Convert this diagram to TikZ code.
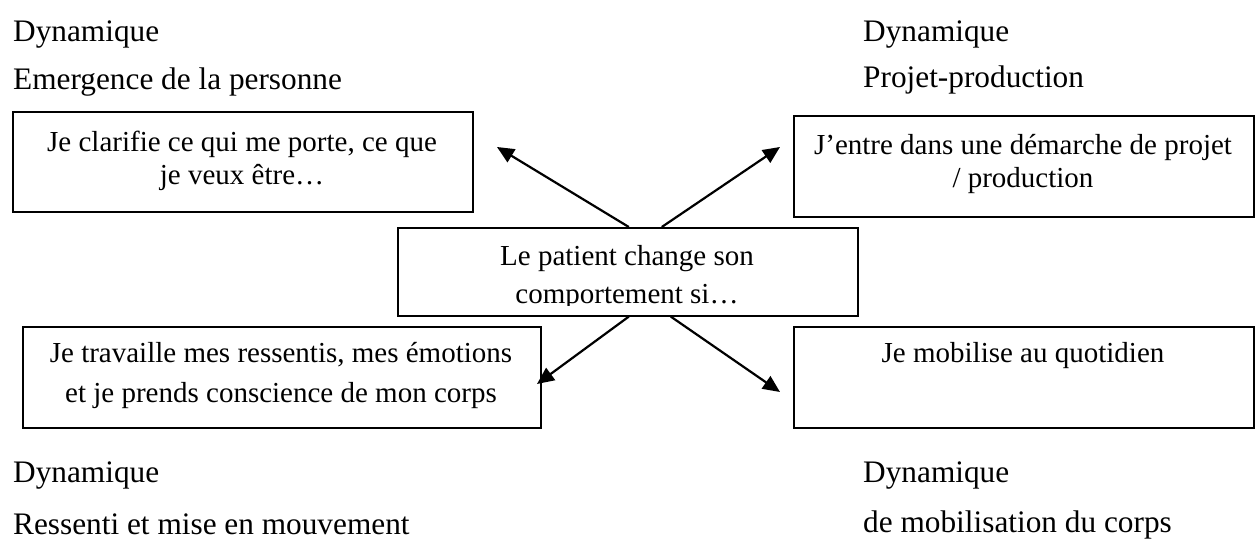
\documentclass[tikz,border=0pt]{standalone}
\usepackage{fontspec}
\setmainfont{Liberation Serif}
\usetikzlibrary{arrows.meta}
\begin{document}
\begin{tikzpicture}[x=1pt,y=-1pt,
  box/.style={draw, line width=1.6pt, inner sep=0pt, anchor=north west},
  txt/.style={inner sep=0pt, align=center, anchor=base, font=\fontsize{29}{33}\selectfont},
  lbl/.style={inner sep=0pt, anchor=base west, font=\fontsize{31.3}{36}\selectfont},
  arr/.style={line width=2.2pt, -{Triangle[length=17pt,width=15pt]}}]
\useasboundingbox (0,0) rectangle (1255,540);
% boxes
\node[box, minimum width=460pt, minimum height=100pt] (tl) at (12,111) {};
\node[box, minimum width=460pt, minimum height=101pt] (tr) at (793,115) {};
\node[box, minimum width=460pt, minimum height=88pt] (c) at (397,227) {};
\node[box, minimum width=518pt, minimum height=101pt] (bl) at (22,326) {};
\node[box, minimum width=460pt, minimum height=101pt] (br) at (793,326) {};
% box texts (anchor base = baseline of the last line)
\node[txt, font=\fontsize{29}{33}\selectfont] (tlt) at (242,185) {Je clarifie ce qui me porte, ce que\\je veux être…};
\node[txt, font=\fontsize{29}{33}\selectfont] (trt) at (1023,188) {J’entre dans une démarche de projet\\/ production};
\begin{scope}
\clip (397,227) rectangle (857,305);
\node[txt, font=\fontsize{29}{38}\selectfont] (ct) at (627,303) {Le patient change son\\comportement si…};
\end{scope}
\node[txt, font=\fontsize{29}{40}\selectfont] (blt) at (281,402) {Je travaille mes ressentis, mes émotions\\et je prends conscience de mon corps};
\node[txt] (brt) at (1023,362) {Je mobilise au quotidien};
% labels
\node[lbl] (l1) at (13,42) {Dynamique};
\node[lbl] (l2) at (13,90) {Emergence de la personne};
\node[lbl] (r1) at (863,42) {Dynamique};
\node[lbl] (r2) at (863,88) {Projet-production};
\node[lbl] (l3) at (13,482) {Dynamique};
\node[lbl] (l4) at (13,534) {Ressenti et mise en mouvement};
\node[lbl] (r3) at (863,482) {Dynamique};
\node[lbl] (r4) at (863,532) {de mobilisation du corps};
% arrows
\coordinate (nwE) at (497,147);
\coordinate (neE) at (780,147);
\coordinate (swE) at (537,384);
\coordinate (seE) at (780,392);
\draw[arr] ([xshift=1pt]c.north) -- (nwE);
\draw[arr] ([xshift=34pt]c.north) -- (neE);
\draw[arr] ([xshift=1pt]c.south) -- (swE);
\draw[arr] ([xshift=43pt]c.south) -- (seE);
\end{tikzpicture}
\end{document}
